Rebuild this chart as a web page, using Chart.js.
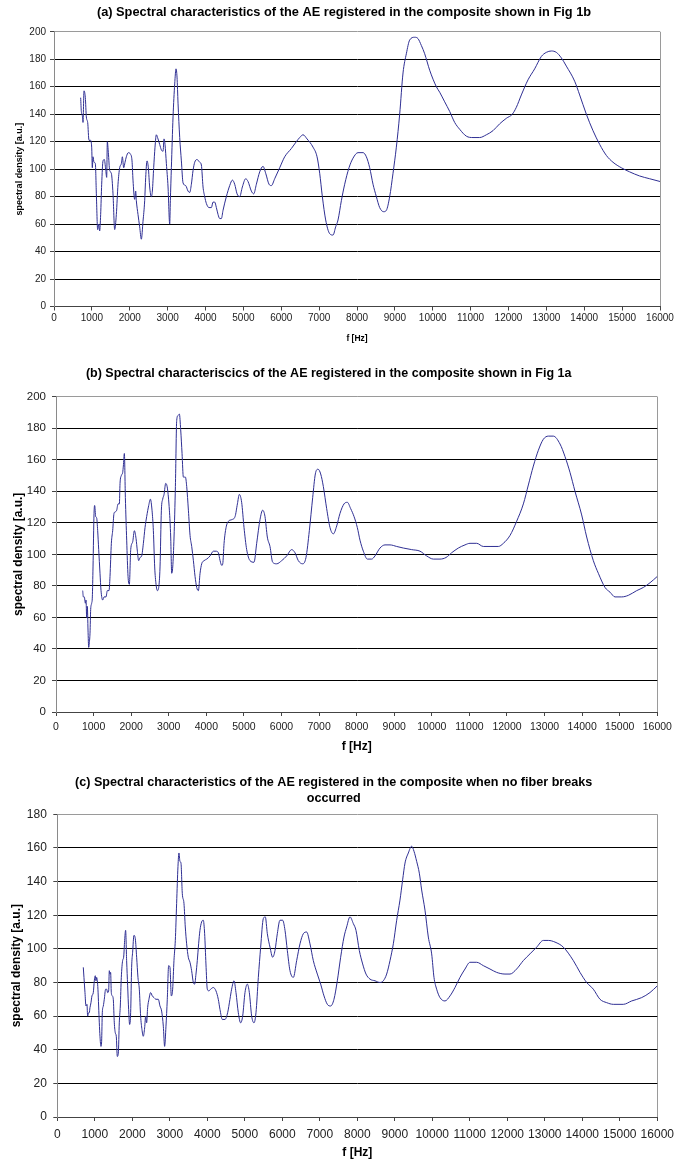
<!DOCTYPE html>
<html>
<head>
<meta charset="utf-8">
<script src="https://cdn.jsdelivr.net/npm/chart.js@4.4.1/dist/chart.umd.min.js"></script>
<style>
  body { margin: 0; background: #fff; width: 683px; height: 1160px; position: relative; overflow: hidden; }
  canvas { position: absolute; left: 0; }
</style>
</head>
<body>
<canvas id="chartA" width="683" height="344" style="top:0px"></canvas>
<canvas id="chartB" width="683" height="399" style="top:355px"></canvas>
<canvas id="chartC" width="683" height="395" style="top:765px"></canvas>
<script>
// (a) composite shown in Fig 1b
const freqA = [704,722,748,766,792,827,854,889,924,960,995,1012,1030,1056,1092,1118,1153,1180,1206,1232,1259,1294,1329,1364,1391,1408,1435,1470,1514,1558,1602,1646,1690,1734,1778,1805,1840,1875,1910,1963,2016,2060,2086,2130,2157,2174,2218,2262,2306,2350,2394,2421,2456,2491,2526,2570,2597,2632,2667,2702,2746,2790,2835,2879,2905,2931,2967,3011,3055,3072,3099,3143,3187,3222,3248,3275,3319,3363,3407,3477,3539,3583,3627,3671,3715,3776,3847,3891,3935,3979,4023,4093,4155,4199,4243,4287,4331,4375,4419,4463,4551,4639,4710,4771,4833,4903,4973,5061,5123,5211,5273,5343,5431,5519,5589,5677,5739,5827,5959,6091,6267,6399,6487,6575,6681,6839,6945,7015,7085,7173,7279,7367,7437,7499,7587,7675,7789,7895,8027,8159,8247,8335,8423,8511,8599,8705,8775,8863,8951,9039,9127,9215,9303,9391,9523,9611,9699,9787,9919,10095,10183,10315,10447,10579,10711,10887,11063,11239,11415,11591,11767,11943,12101,12207,12339,12515,12691,12867,12999,13131,13263,13395,13527,13747,13879,14055,14231,14407,14583,14759,14979,15199,15463,15727,16000];
const densA = [152,142,139,134,157,152,138,134,121,121,116,101,109,105,104,82,56,60,55,67,89,106,107,100,94,120,112,99,97,82,56,67,89,101,104,109,101,105,109,112,111,106,92,78,84,77,67,58,49,62,77,94,106,101,87,80,84,101,116,125,122,118,114,113,122,118,104,87,60,77,101,138,162,173,167,148,123,106,90,88,84,83,89,99,105,107,105,103,87,80,75,72,72,76,76,72,67,64,64,70,80,88,92,89,82,80,87,93,91,84,82,89,98,102,97,89,88,93,101,109,115,120,123,125,122,116,109,97,80,63,53,52,58,63,77,89,101,108,112,112,109,101,89,80,72,69,70,80,97,116,140,170,184,194,196,195,190,184,172,160,156,149,142,134,129,124,123,123,125,128,133,137,140,145,154,165,173,182,185,186,185,181,175,164,154,140,128,118,110,105,101,98,95,93,91];

// (b) composite shown in Fig 1a
const freqB = [710,728,754,781,799,816,834,852,870,887,905,923,949,967,985,1012,1029,1056,1083,1109,1136,1171,1198,1242,1278,1331,1366,1411,1437,1473,1508,1544,1580,1615,1651,1686,1704,1739,1775,1792,1819,1846,1881,1917,1952,1988,2041,2085,2130,2165,2200,2236,2280,2325,2369,2413,2467,2511,2555,2591,2626,2662,2697,2733,2768,2804,2839,2875,2919,2964,3017,3052,3079,3106,3141,3177,3212,3247,3283,3318,3354,3389,3416,3443,3478,3523,3567,3611,3656,3700,3744,3789,3833,3877,3940,4011,4099,4188,4259,4321,4366,4410,4437,4472,4525,4588,4676,4765,4827,4878,4940,5003,5074,5162,5269,5340,5428,5499,5561,5623,5694,5765,5872,6005,6138,6271,6360,6448,6564,6652,6741,6830,6901,6972,7043,7114,7202,7291,7380,7469,7557,7664,7752,7841,7930,8018,8089,8178,8284,8400,8488,8621,8754,8888,9065,9242,9464,9686,9863,10041,10218,10378,10528,10706,10883,11016,11194,11371,11549,11771,11904,12081,12258,12436,12569,12702,12835,12968,13101,13234,13411,13544,13677,13810,13988,14121,14298,14431,14609,14742,14875,15052,15230,15452,15629,15807,16000];
const densB = [77,73,73,69,71,60,67,52,41,44,50,65,69,73,92,126,131,124,123,115,103,88,77,71,73,73,77,77,86,107,115,126,127,128,132,132,145,150,152,156,164,136,109,86,81,103,108,115,110,102,96,98,99,107,117,124,131,135,128,115,92,81,77,79,92,128,135,138,145,142,128,111,88,92,111,143,185,188,189,179,164,149,149,149,143,128,112,105,96,86,79,77,88,94,96,97,99,102,102,101,96,93,94,107,117,121,122,124,132,138,133,117,103,96,95,107,122,128,124,111,105,95,94,96,99,103,101,96,94,98,115,136,151,154,151,143,129,117,113,118,126,132,133,129,124,117,109,102,97,97,99,104,106,106,105,104,103,102,99,97,97,98,101,104,106,107,107,105,105,105,107,112,121,132,144,156,166,173,175,175,170,162,152,140,125,111,96,88,79,76,73,73,74,77,79,82,86];

// (c) composite when no fiber breaks occurred
const freqC = [693,711,738,764,791,809,836,853,871,898,924,960,987,1013,1031,1049,1067,1084,1102,1120,1138,1164,1182,1200,1227,1253,1289,1316,1342,1369,1387,1404,1422,1440,1467,1493,1520,1547,1573,1600,1627,1653,1680,1707,1742,1769,1796,1822,1849,1876,1902,1929,1956,1982,2009,2044,2080,2116,2151,2187,2222,2258,2293,2329,2356,2382,2409,2444,2489,2533,2578,2631,2693,2738,2782,2827,2862,2898,2933,2969,3004,3040,3076,3111,3147,3182,3218,3244,3271,3298,3333,3378,3413,3449,3493,3538,3582,3627,3662,3698,3733,3769,3804,3849,3893,3929,3964,4000,4044,4089,4160,4231,4293,4338,4400,4471,4542,4604,4649,4712,4765,4827,4889,4943,5005,5067,5121,5183,5245,5298,5361,5423,5494,5547,5601,5672,5743,5805,5867,5938,6009,6072,6134,6205,6294,6383,6472,6561,6649,6738,6827,6934,7023,7112,7201,7290,7378,7467,7556,7645,7716,7805,7894,7965,8054,8143,8232,8338,8472,8605,8694,8783,8872,8961,9050,9138,9209,9272,9361,9449,9512,9583,9654,9716,9805,9894,9983,10045,10116,10205,10338,10472,10605,10738,10872,11005,11183,11361,11538,11716,11938,12072,12249,12427,12605,12783,12961,13094,13272,13494,13761,13939,14116,14294,14472,14650,14827,15094,15316,15583,15805,16000];
const densC = [89,83,74,66,67,60,62,62,65,68,72,74,81,84,81,83,81,76,66,56,48,42,45,62,66,70,76,76,74,75,87,85,86,74,72,70,56,50,48,36,38,56,66,83,93,95,105,111,93,78,64,55,62,89,98,108,106,95,83,76,60,52,48,53,60,56,65,70,74,72,71,70,70,66,63,54,42,54,70,90,89,72,76,93,105,127,149,157,152,151,133,127,113,103,95,92,87,80,79,85,93,103,111,116,117,109,91,76,75,76,77,75,70,64,58,58,62,70,76,81,74,62,56,60,74,79,74,60,56,62,83,101,118,119,109,101,95,99,109,117,117,111,99,87,83,93,103,109,110,103,93,85,79,72,67,66,70,81,95,107,113,119,115,111,99,91,85,82,81,80,81,85,93,103,117,129,141,151,157,161,158,152,145,135,123,107,97,83,76,71,69,72,77,83,88,92,92,90,88,86,85,85,88,93,97,101,105,105,104,101,93,86,80,76,70,68,67,67,69,71,74,78];

const xTicks = [0,1000,2000,3000,4000,5000,6000,7000,8000,9000,10000,11000,12000,13000,14000,15000,16000];

const FONT = 'Arial, "Liberation Sans", sans-serif';
const LINE = '#2f2f93';

function points(freq, dens) {
    return freq.map((f, i) => ({ x: f, y: dens[i] }));
}

function makeChart(id, freq, dens, o) {
    return new Chart(id, {
        type: 'line',
        data: {
            datasets: [{
                data: points(freq, dens),
                borderColor: LINE,
                borderWidth: 1,
                pointRadius: 0,
                fill: false,
                cubicInterpolationMode: 'monotone',
            }],
        },
        options: {
            responsive: false,
            animation: false,
            devicePixelRatio: 1,
            // left padding only shifts the centred title; the y axis width makes up for it
            layout: { padding: { left: o.padLeft, right: o.padRight, top: 0, bottom: 0 } },
            plugins: {
                legend: { display: false },
                tooltip: { enabled: false },
                title: {
                    display: true,
                    text: o.title,
                    color: '#000',
                    font: { family: FONT, size: o.titleSize, weight: 'bold', lineHeight: o.titleLH },
                    padding: o.titlePad,
                },
            },
            scales: {
                x: {
                    type: 'linear',
                    min: 0,
                    max: 16000,
                    afterBuildTicks: (s) => { s.ticks = xTicks.map(v => ({ value: v })); },
                    afterFit: (s) => { s.height = o.xHeight; },
                    ticks: {
                        autoSkip: false,
                        maxRotation: 0,
                        color: '#222',
                        padding: o.xTickPad,
                        font: { family: FONT, size: o.xTickSize },
                        callback: (v) => String(v),
                    },
                    grid: {
                        drawOnChartArea: true,
                        tickLength: 4,
                        tickColor: '#444',
                        color: (c) => (c.tick && c.tick.value === 16000 ? '#9a9a9a' : 'rgba(0,0,0,0)'),
                    },
                    border: { color: '#444' },
                    title: {
                        display: true,
                        text: 'f [Hz]',
                        color: '#000',
                        font: { family: FONT, size: o.xTitleSize, weight: 'bold', lineHeight: 1.2 },
                        padding: { top: 0, bottom: 0 },
                    },
                },
                y: {
                    min: 0,
                    max: o.yMax,
                    afterFit: (s) => { s.width = o.yWidth; },
                    ticks: {
                        stepSize: 20,
                        color: '#222',
                        padding: o.yTickPad,
                        font: { family: FONT, size: o.yTickSize },
                        callback: (v) => String(v),
                    },
                    grid: {
                        tickLength: 4,
                        tickColor: '#444',
                        color: (c) => (c.tick && c.tick.value === o.yMax ? '#9a9a9a' : '#000'),
                    },
                    border: { color: '#8a8a8a' },
                    title: {
                        display: true,
                        text: 'spectral density [a.u.]',
                        color: '#000',
                        font: { family: FONT, size: o.yTitleSize, weight: 'bold', lineHeight: 1.2 },
                        padding: { top: o.yTitlePad, bottom: 0 },
                    },
                },
            },
        },
    });
}

makeChart('chartA', freqA, densA, {
    title: '(a) Spectral characteristics of the AE registered in the composite shown in Fig 1b',
    titleSize: 12.8, titleLH: 1.2, titlePad: { top: 4.3, bottom: 12.1 },
    padLeft: 28, padRight: 23, yWidth: 26, xHeight: 37.5, yMax: 200,
    xTickSize: 10, yTickSize: 10, xTickPad: 2, yTickPad: 4,
    xTitleSize: 8.5, yTitleSize: 9, yTitlePad: -13.4,
});

makeChart('chartB', freqB, densB, {
    title: '(b) Spectral characteriscics of the AE registered in the composite shown in Fig 1a',
    titleSize: 12.5, titleLH: 1.2, titlePad: { top: 11, bottom: 15.7 },
    padLeft: 0, padRight: 25.7, yWidth: 56, xHeight: 42, yMax: 200,
    xTickSize: 10.5, yTickSize: 11.5, xTickPad: 5, yTickPad: 6,
    xTitleSize: 12, yTitleSize: 12, yTitlePad: 11,
});

makeChart('chartC', freqC, densC, {
    title: ['(c) Spectral characteristics of the AE registered in the composite when no fiber breaks', 'occurred'],
    titleSize: 12.6, titleLH: 1.25, titlePad: { top: 9.9, bottom: 7.9 },
    padLeft: 10, padRight: 25.7, yWidth: 47.3, xHeight: 43, yMax: 180,
    xTickSize: 12, yTickSize: 12, xTickPad: 6.5, yTickPad: 6.5,
    xTitleSize: 12, yTitleSize: 12, yTitlePad: -0.5,
});
</script>
</body>
</html>
